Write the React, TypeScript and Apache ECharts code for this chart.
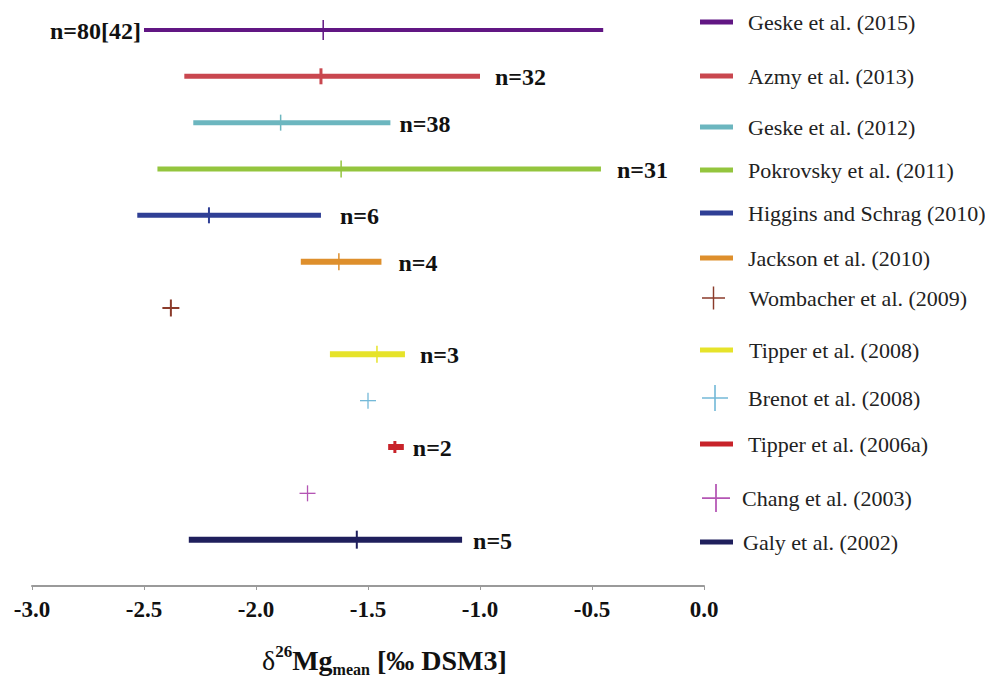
import { useEffect, useRef } from 'react';
import * as echarts from 'echarts';

// ---------- data ----------
const studies = [
  'Geske et al. (2015)',
  'Azmy et al. (2013)',
  'Geske et al. (2012)',
  'Pokrovsky et al. (2011)',
  'Higgins and Schrag (2010)',
  'Jackson et al. (2010)',
  'Wombacher et al. (2009)',
  'Tipper et al. (2008)',
  'Brenot et al. (2008)',
  'Tipper et al. (2006a)',
  'Chang et al. (2003)',
  'Galy et al. (2002)',
];
const meanValues = [-1.70, -1.71, -1.89, -1.62, -2.21, -1.63, -2.38, -1.46, -1.50, -1.38, -1.77, -1.55];
const lowValues: (number | null)[] = [-2.50, -2.32, -2.28, -2.44, -2.53, -1.80, null, -1.67, null, -1.41, null, -2.30];
const highValues: (number | null)[] = [-0.45, -1.00, -1.40, -0.46, -1.71, -1.44, null, -1.335, null, -1.34, null, -1.08];
const sampleLabels = ['n=80[42]', 'n=32', 'n=38', 'n=31', 'n=6', 'n=4', '', 'n=3', '', 'n=2', '', 'n=5'];
const xMin = -3.0;
const xMax = 0.0;
const xStep = 0.5;
const axisTitle = { delta: 'δ', sup: '26', element: 'Mg', sub: 'mean', unit: ' [‰ DSM3]' };

// ---------- styles ----------
const colors = ['#611683', '#c9474f', '#6cb6bf', '#94c53e', '#2f3f95', '#de8f2c', '#8b3b2b', '#e6e32a', '#74b9d8', '#c8232a', '#b455b4', '#1f1f5c'];
const lineWidths = [4, 5, 5, 5, 5, 6, 0, 6, 0, 6, 0, 6];
const tickHeights = [20, 16, 16, 17, 16, 17, 17, 17, 16, 12, 16, 18];
const tickWidths = [1.5, 3, 1.5, 1.5, 2, 1.5, 2, 1.5, 1.3, 3, 1.3, 2];
const labelGaps = [3, 15, 9, 16, 19, 17, 0, 15, 0, 9, 0, 11];
const legendCenters = [22, 76, 127, 170, 213, 258, 298, 350, 398, 444, 498, 542];
const legendTextX = [748, 748, 748, 748, 748, 748, 749, 749, 748, 748, 742, 743];
const crossIconSize = [0, 0, 0, 0, 0, 0, 23, 0, 26, 0, 28, 0];
const serif = 'Liberation Serif';

export default function App() {
  const ref = useRef<HTMLDivElement>(null);
  useEffect(() => {
    if (!ref.current) return;
    const chart = echarts.init(ref.current, undefined, { renderer: 'svg' });

    const series = studies.map((name, i) => ({
      type: 'custom',
      name,
      color: colors[i],
      data: [[meanValues[i], i]],
      encode: { x: 0, y: 1 },
      renderItem: (params: any, api: any) => {
        const mean = api.value(0);
        const row = api.value(1);
        const pm = api.coord([mean, row]);
        const y = pm[1];
        const color = colors[i];
        const children: any[] = [];
        const lo = lowValues[i];
        const hi = highValues[i];
        let labelX = pm[0] + 14;
        let labelAlign = 'left';
        if (lo != null && hi != null) {
          const pl = api.coord([lo, row]);
          const ph = api.coord([hi, row]);
          children.push({
            type: 'line',
            shape: { x1: pl[0], y1: y, x2: ph[0], y2: y },
            style: { stroke: color, lineWidth: lineWidths[i] },
          });
          if (i === 0) {
            labelX = pl[0] - labelGaps[i];
            labelAlign = 'right';
          } else {
            labelX = ph[0] + labelGaps[i];
          }
        } else {
          const h = tickHeights[i] / 2;
          children.push({
            type: 'line',
            shape: { x1: pm[0] - h, y1: y, x2: pm[0] + h, y2: y },
            style: { stroke: color, lineWidth: tickWidths[i] },
          });
        }
        const th = tickHeights[i] / 2;
        children.push({
          type: 'line',
          shape: { x1: pm[0], y1: y - th, x2: pm[0], y2: y + th },
          style: { stroke: color, lineWidth: tickWidths[i] },
        });
        if (sampleLabels[i]) {
          children.push({
            type: 'text',
            x: labelX,
            y: y + 1,
            style: {
              text: sampleLabels[i],
              fill: '#111',
              fontSize: 24,
              fontWeight: 'bold',
              fontFamily: serif,
              align: labelAlign,
              verticalAlign: 'middle',
            },
          });
        }
        return { type: 'group', children };
      },
    }));

    const legends = studies.map((name, i) => {
      const isCross = crossIconSize[i] > 0;
      const iw = isCross ? crossIconSize[i] : 33;
      const ih = isCross ? crossIconSize[i] : 5;
      const left = isCross ? 702 : 700;
      const pad = legendTextX[i] - (left + iw + 5);
      const h = Math.max(26, ih);
      const t = Math.max(1, iw / 16);
      const c = iw / 2;
      const icon = isCross
        ? `path://M${c - t / 2},0 h${t} v${c - t / 2} h${c - t / 2} v${t} h-${c - t / 2} v${c - t / 2} h-${t} v-${c - t / 2} h-${c - t / 2} v-${t} h${c - t / 2} z`
        : 'rect';
      return {
        data: [{ name, icon, itemStyle: { color: colors[i] } }],
        left,
        top: legendCenters[i] - h / 2,
        padding: 0,
        orient: 'vertical',
        selectedMode: false,
        itemWidth: iw,
        itemHeight: ih,
        textStyle: {
          fontFamily: serif,
          fontSize: 22,
          color: '#222',
          lineHeight: 26,
          padding: [0, 0, 0, pad],
        },
      };
    });

    chart.setOption({
      animation: false,
      backgroundColor: '#fff',
      title: {
        text: `{d|${axisTitle.delta}}{sup|${axisTitle.sup}}{b|${axisTitle.element}}{sub|${axisTitle.sub}}{b|${axisTitle.unit}}`,
        left: 262,
        top: 643,
        padding: 0,
        textStyle: {
          rich: {
            d: { fontFamily: serif, fontSize: 28, fontWeight: 'normal', color: '#111', lineHeight: 34 },
            b: { fontFamily: serif, fontSize: 28, fontWeight: 'bold', color: '#111', lineHeight: 34 },
            sup: { fontFamily: serif, fontSize: 17, fontWeight: 'bold', color: '#111', lineHeight: 17, verticalAlign: 'top' },
            sub: { fontFamily: serif, fontSize: 16, fontWeight: 'bold', color: '#111', lineHeight: 16, verticalAlign: 'bottom' },
          },
        },
      },
      legend: legends,
      grid: { left: 32, right: 281, top: 6.8, bottom: 101, containLabel: false },
      xAxis: {
        type: 'value',
        position: 'bottom',
        min: xMin,
        max: xMax,
        interval: xStep,
        splitLine: { show: false },
        axisLine: { show: true, onZero: false, lineStyle: { color: '#9a9a9a', width: 2 } },
        axisTick: { show: true, length: 4, lineStyle: { color: '#9a9a9a', width: 1 } },
        axisLabel: {
          formatter: (v: number) => v.toFixed(1),
          fontFamily: serif,
          fontWeight: 'bold',
          fontSize: 23,
          color: '#111',
          margin: 12,
        },
      },
      yAxis: {
        type: 'value',
        inverse: true,
        min: -0.5,
        max: 12,
        show: false,
      },
      series,
    });
    return () => chart.dispose();
  }, []);
  return <div ref={ref} style={{ position: 'absolute', left: 0, top: 0, width: 985, height: 687 }} />;
}
